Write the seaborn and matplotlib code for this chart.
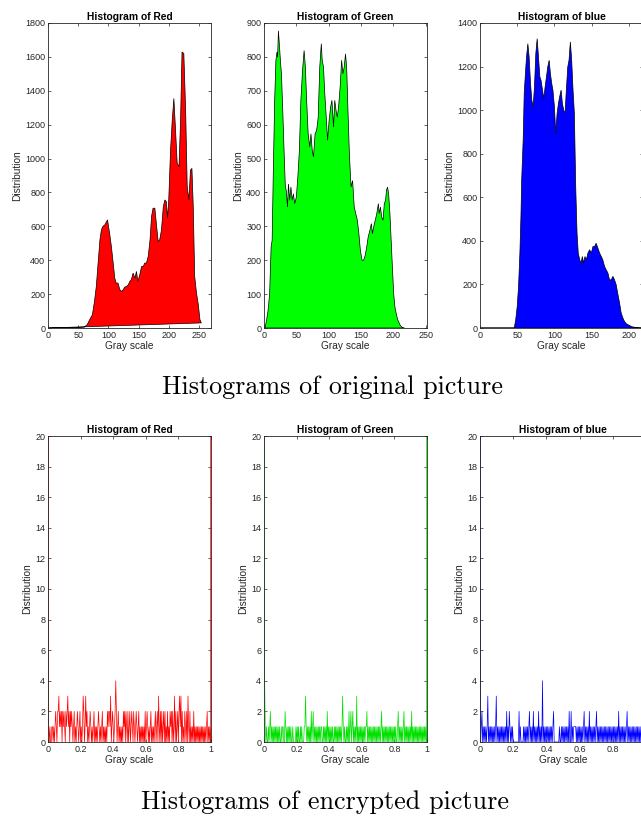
import numpy as np
import pandas as pd
import matplotlib
matplotlib.use("Agg")
import matplotlib.pyplot as plt
import seaborn as sns

# ---- original picture: histogram outlines (gray level, count)
red_x = [0, 60, 65, 69, 73.5, 77, 80, 83, 86, 88.5, 91, 94, 97, 98.5, 99.5, 102, 105, 108,
         110.6, 113, 116, 119, 122, 124.5, 127, 130, 133, 135.5, 138, 141, 144, 146.5, 149,
         152, 155, 158, 160, 163, 166, 169, 171.5, 174, 177, 180, 182.5, 185, 188, 191,
         193.6, 196, 198, 200, 203, 205.8, 208.5, 211, 214, 217, 219.6, 222, 225, 228,
         230.6, 233.4, 236, 238.4, 240.6, 243, 246, 249, 251.7, 254]
red_y = [0, 5, 20, 49, 78, 157, 245, 383, 520, 580, 600, 608, 628, 638, 618, 560, 481, 383,
         294, 265, 265, 226, 216, 226, 241, 245, 255, 275, 285, 324, 294, 334, 275,
         314, 363, 363, 383, 383, 422, 520, 658, 707, 707, 599, 510, 520, 579, 717,
         756, 746, 648, 756, 1050, 1227, 1355, 1188, 972, 952, 1227, 1629, 1620, 1286,
         834, 756, 932, 942, 717, 304, 206, 137, 49, 30]

green_x = [1.5, 4, 6.3, 8.7, 11, 12.6, 14.5, 16.5, 18.4, 20, 21, 22.3, 23.7, 25.7, 27, 29,
           31, 33, 34.4, 36.3, 37.8, 39.7, 41.6, 43.6, 45.5, 47.5, 50, 52.3, 54.7, 57, 59.6,
           62, 64, 65.9, 68.3, 70.7, 72.6, 74.6, 76.5, 79, 81.4, 83.8, 86.2, 88.6, 90, 92,
           94, 95.9, 98.3, 100.7, 103, 105, 107.5, 109.4, 111.4, 113.3, 115.3, 117.7, 120,
           122, 124, 126, 127.8, 129.8, 132, 134.6, 137, 139.5, 141.9, 144.3, 146.7, 149,
           151.6, 154, 156.4, 158.8, 161, 163.7, 166, 167.6, 169.5, 172, 174.3, 176.8, 178,
           180, 182, 184, 186, 188, 189.3, 191, 192.7, 194.7, 196.6, 198.5, 200.5, 202.4,
           205, 207, 210.6, 214.5, 217]
green_y = [0, 23, 52, 101, 239, 259, 475, 672, 790, 814, 799, 877, 839, 780, 750, 642,
           524, 416, 406, 357, 425, 377, 416, 377, 396, 367, 386, 445, 524, 672, 760,
           819, 770, 672, 573, 534, 573, 524, 505, 573, 583, 622, 770, 839, 790, 770,
           691, 632, 554, 613, 652, 672, 593, 672, 642, 622, 652, 711, 790,
           750, 770, 809, 770, 642, 514, 416, 435, 357, 337, 318, 278, 229,
           200, 200, 214, 239, 268, 288, 308, 278, 298, 318, 337, 367, 337,
           357, 327, 318, 367, 377, 406, 416, 396, 337, 259, 180, 101, 62,
           37, 23, 8, 0, 0]

blue_x = [0, 46, 48, 50, 51.8, 53.6, 55, 56, 58, 59.4, 61, 62.5, 64.3, 66, 67.9, 69.6, 71.4,
          73.2, 75, 76.8, 78.6, 80.4, 82, 84, 85.7, 87.5, 89.3, 91, 92.9, 94.6, 96.4, 98, 100,
          101.8, 103.6, 105.4, 107, 109, 110.7, 112.5, 114.3, 116, 117.9, 119.6, 121.4, 123.2,
          125, 126.8, 128.6, 130.4, 132, 134, 135.7, 137.5, 139.3, 141, 142.9, 145, 147.3,
          149.6, 151.8, 154, 156, 158.5, 160.7, 163, 165, 167.4, 169.6, 171.9, 174, 176.3,
          178.6, 180.8, 183, 185, 187.5, 189.7, 192, 194, 196.4, 201, 205, 212, 219]
blue_y = [0, 0, 38, 99, 191, 344, 511, 679, 863, 1076, 1168, 1244, 1305, 1244, 1122, 1046, 1015,
          1107, 1260, 1328, 1244, 1153, 1137, 1092, 1053, 1107, 1153, 1198, 1229, 1168, 1122, 1092, 1015,
          893, 985, 1031, 1061, 1092, 1031, 1000, 985, 1092, 1198, 1229, 1313, 1229,
          1092, 985, 649, 435, 344, 313, 298, 328, 298, 328, 313, 344, 359,
          344, 374, 374, 389, 366, 344, 328, 313, 282, 267, 252, 221, 221,
          237, 221, 198, 160, 115, 69, 46, 31, 20, 11, 5, 1, 0]

# ---- encrypted picture: counts per bin (256 bins on [0, 1]), edge bins saturate
red_counts = ("0101001101012102" "2312120212102123" "1202121012010121" "0120101320131201"
              "0121010120101012" "1010120101010212" "2130121012420120" "1010102120210201"
              "2012102101210120" "1010101020121010" "1201010120120310" "2020120201020102"
              "1202013020120231" "3020102102031020" "1010201010101010" "1010101012010102")
green_counts = ("0410100101201010" "1010101010010110" "0210101010100100" "0010101001010001"
                "1310101010201201" "0101010101100101" "0102010101010010" "1010101010131010"
                "0101020120120101" "0301010101010101" "1201010101010101" "0101010120101010"
                "1010101010101010" "0120101010120101" "0101010201010101" "0101010101010101")
blue_counts = ("0012010101013010" "1010101013010101" "0101010102010210" "1010000000002010"
               "0001010101012010" "1020101010201010" "4010101010101010" "1200000000100101"
               "0101010102002010" "1111010101010101" "2010101020101010" "1012010101010101"
               "0101010101010101" "0101020101010101" "0120101010101010" "1010101010101010")
edge_count = 40

titles = ["Histogram of Red", "Histogram of Green", "Histogram of blue"]
top_ylims = [1800, 900, 1400]
top_ysteps = [200, 100, 200]
top_xlims = [270, 252, 219]
bottom_xticklabels = [["0", "0.2", "0.4", "0.6", "0.8", "1"],
                      ["0", "0.2", "0.4", "0.6", "0.8", "1"],
                      ["0", "0.2", "0.4", "0.6", "0.8", ""]]  # last one falls off the page

sns.set_theme(style="ticks")
plt.rcParams["font.family"] = ["Liberation Sans", "DejaVu Sans"]
gray = "#262626"
plt.rcParams.update({
    "axes.edgecolor": gray, "xtick.color": gray, "ytick.color": gray,
    "axes.labelcolor": gray, "xtick.direction": "in", "ytick.direction": "in",
    "xtick.major.size": 2.5, "ytick.major.size": 2.5, "axes.linewidth": 0.6,
    "xtick.major.width": 0.5, "ytick.major.width": 0.5,
    "xtick.labelsize": 6.5, "ytick.labelsize": 6.5,
})

fig = plt.figure(figsize=(6.41, 8.21), dpi=100)
W, H = 641, 821
lefts = [48, 264, 480]
widths_top = [163, 163, 163]
widths_bottom = [163, 163, 166]


def style(ax, title):
    ax.set_title(title, fontsize=7.4, fontweight="bold", color="black", pad=2)
    ax.set_xlabel("Gray scale", fontsize=7.3, labelpad=1)
    ax.set_ylabel("Distribution", fontsize=7.3, labelpad=2)
    ax.tick_params(top=True, right=True, pad=2)
    for s in ax.spines.values():
        s.set_visible(True)


top_data = [(red_x, red_y, "#ff0000"), (green_x, green_y, "#00ff00"), (blue_x, blue_y, "#0000ff")]
for i, (xs, ys, col) in enumerate(top_data):
    ax = fig.add_axes([lefts[i] / W, (H - 328) / H, widths_top[i] / W, 305 / H])
    ax.fill(xs, ys, facecolor=col, edgecolor="black", linewidth=0.5)
    ax.set_xticks(np.arange(0, 251, 50))
    ax.set_yticks(np.arange(0, top_ylims[i] + 1, top_ysteps[i]))
    ax.set_xlim(0, top_xlims[i])
    ax.set_ylim(0, top_ylims[i])
    style(ax, titles[i])

bins = np.arange(256) / 255
bottom_data = [(red_counts, "#ff0000"), (green_counts, "#00e000"), (blue_counts, "#0000ff")]
for i, (digits, col) in enumerate(bottom_data):
    counts = np.array([int(c) for c in "".join(digits)])
    counts[0] = edge_count
    counts[-1] = edge_count
    df = pd.DataFrame({"level": bins, "count": counts})
    ax = fig.add_axes([lefts[i] / W, (H - 742) / H, widths_bottom[i] / W, 306 / H])
    sns.lineplot(data=df, x="level", y="count", ax=ax, color=col, linewidth=0.5,
                 estimator=None, sort=False)
    ax.set_xticks(np.arange(0, 1.01, 0.2))
    ax.set_xticklabels(bottom_xticklabels[i])
    ax.set_yticks(np.arange(0, 21, 2))
    ax.set_xlim(0, 1)
    ax.set_ylim(0, 20)
    style(ax, titles[i])

fig.text(332 / W, 1 - 387 / H, "Histograms of original picture", ha="center", va="center",
         fontsize=18.8, family="cmr10", color="black")
fig.text(325 / W, 1 - 802 / H, "Histograms of encrypted picture", ha="center", va="center",
         fontsize=18.8, family="cmr10", color="black")

fig.savefig("out.png", dpi=100, facecolor="white")
